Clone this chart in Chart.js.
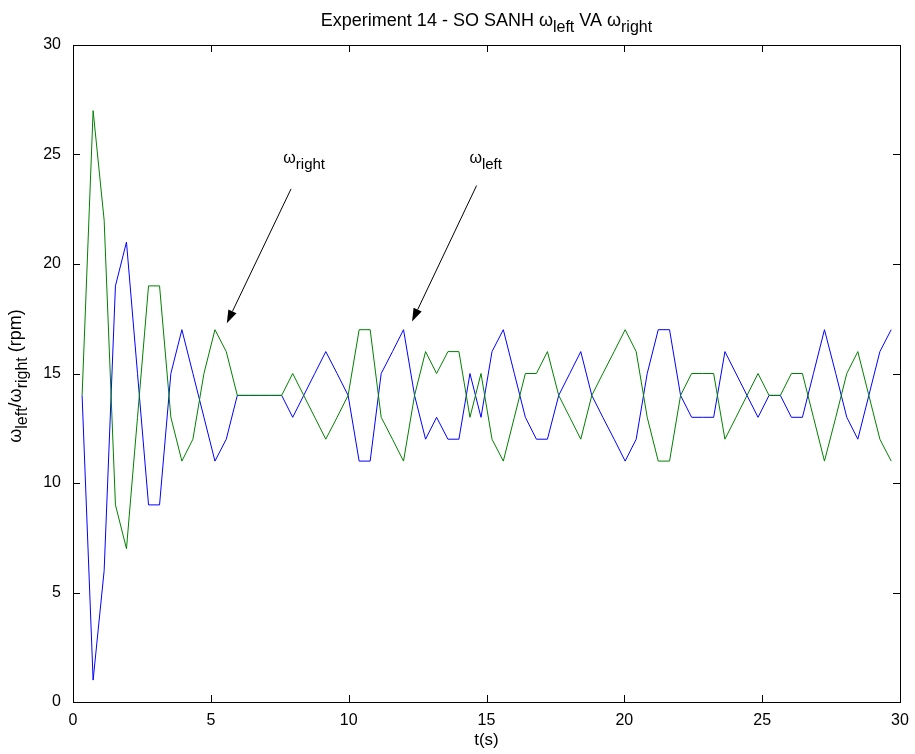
<!DOCTYPE html>
<html>
<head>
<meta charset="utf-8">
<script src="https://cdn.jsdelivr.net/npm/chart.js@4"></script>
<style>
  body { margin: 0; background: #fff; }
  #wrap { width: 915px; height: 754px; }
</style>
</head>
<body>
<div id="wrap"><canvas id="chart" width="915" height="754"></canvas></div>
<script>
// sample times (s)
const times = [0.33, 0.73, 1.13, 1.54, 1.94, 2.34, 2.74, 3.14, 3.55, 3.95,
  4.35, 4.75, 5.15, 5.56, 5.96, 6.36, 6.76, 7.16, 7.57, 7.97,
  8.37, 8.77, 9.17, 9.58, 9.98, 10.38, 10.78, 11.18, 11.59, 11.99,
  12.39, 12.79, 13.19, 13.60, 14.00, 14.40, 14.80, 15.20, 15.61, 16.01,
  16.41, 16.81, 17.21, 17.62, 18.02, 18.42, 18.82, 19.22, 19.63, 20.03,
  20.43, 20.83, 21.23, 21.64, 22.04, 22.44, 22.84, 23.24, 23.65, 24.05,
  24.45, 24.85, 25.25, 25.66, 26.06, 26.46, 26.86, 27.26, 27.67, 28.07,
  28.47, 28.87, 29.27, 29.68];

// omega left (blue), rpm
const omegaLeft = [14, 1, 6, 19, 21, 15, 9, 9, 15, 17,
  15, 13, 11, 12, 14, 14, 14, 14, 14, 13,
  14, 15, 16, 15, 14, 11, 11, 15, 16, 17,
  14, 12, 13, 12, 12, 15, 13, 16, 17, 15,
  13, 12, 12, 14, 15, 16, 14, 13, 12, 11,
  12, 15, 17, 17, 14, 13, 13, 13, 16, 15,
  14, 13, 14, 14, 13, 13, 15, 17, 15, 13,
  12, 14, 16, 17];

// omega right (green), rpm
const omegaRight = [14, 27, 22, 9, 7, 13, 19, 19, 13, 11,
  12, 15, 17, 16, 14, 14, 14, 14, 14, 15,
  14, 13, 12, 13, 14, 17, 17, 13, 12, 11,
  14, 16, 15, 16, 16, 13, 15, 12, 11, 13,
  15, 15, 16, 14, 13, 12, 14, 15, 16, 17,
  16, 13, 11, 11, 14, 15, 15, 15, 12, 13,
  14, 15, 14, 14, 15, 15, 13, 11, 13, 15,
  16, 14, 12, 11];

const xTicks = [0, 5, 10, 15, 20, 25, 30];
const yTicks = [0, 5, 10, 15, 20, 25, 30];

const FONT = "'Liberation Sans', Arial, Helvetica, sans-serif";

// draws text made of normal and subscript pieces
function drawRich(ctx, parts, x, y, size, subSize, align) {
    let widths = parts.map(p => {
        ctx.font = `${p.sub ? subSize : size}px ${FONT}`;
        return ctx.measureText(p.t).width;
    });
    let total = widths.reduce((a, b) => a + b, 0);
    let cx = align === 'center' ? x - total / 2 : x;
    ctx.textAlign = 'left';
    ctx.textBaseline = 'alphabetic';
    parts.forEach((p, i) => {
        ctx.font = `${p.sub ? subSize : size}px ${FONT}`;
        ctx.fillText(p.t, cx, p.sub ? y + 6 : y);
        cx += widths[i];
    });
}

function arrow(ctx, x1, y1, x2, y2) {
    const ang = Math.atan2(y2 - y1, x2 - x1);
    const len = 13, half = 4.5;
    ctx.beginPath();
    ctx.moveTo(x1, y1);
    ctx.lineTo(x2 - len * Math.cos(ang), y2 - len * Math.sin(ang));
    ctx.stroke();
    ctx.beginPath();
    ctx.moveTo(x2, y2);
    ctx.lineTo(x2 - len * Math.cos(ang) + half * Math.sin(ang), y2 - len * Math.sin(ang) - half * Math.cos(ang));
    ctx.lineTo(x2 - len * Math.cos(ang) - half * Math.sin(ang), y2 - len * Math.sin(ang) + half * Math.cos(ang));
    ctx.closePath();
    ctx.fill();
}

const matlabFrame = {
    id: 'matlabFrame',
    afterDraw(chart) {
        const { ctx, chartArea: a, scales: { x, y } } = chart;
        ctx.save();
        ctx.strokeStyle = '#000';
        ctx.fillStyle = '#000';
        ctx.lineWidth = 1;

        // box
        ctx.strokeRect(Math.round(a.left) + 0.5, Math.round(a.top) + 0.5,
            Math.round(a.right - a.left), Math.round(a.bottom - a.top));

        // inward ticks on all sides
        const tl = 7;
        ctx.beginPath();
        xTicks.forEach(v => {
            const px = Math.round(x.getPixelForValue(v)) + 0.5;
            ctx.moveTo(px, a.bottom); ctx.lineTo(px, a.bottom - tl);
            ctx.moveTo(px, a.top); ctx.lineTo(px, a.top + tl);
        });
        yTicks.forEach(v => {
            const py = Math.round(y.getPixelForValue(v)) + 0.5;
            ctx.moveTo(a.left, py); ctx.lineTo(a.left + tl, py);
            ctx.moveTo(a.right, py); ctx.lineTo(a.right - tl, py);
        });
        ctx.stroke();

        // title
        drawRich(ctx, [
            { t: 'Experiment 14 - SO SANH ' }, { t: 'ω' }, { t: 'left', sub: true },
            { t: ' VA ' }, { t: 'ω' }, { t: 'right', sub: true }
        ], (a.left + a.right) / 2, 26, 18, 16, 'center');

        // y axis label, rotated
        ctx.save();
        ctx.translate(21, 376);
        ctx.rotate(-Math.PI / 2);
        drawRich(ctx, [
            { t: 'ω' }, { t: 'left', sub: true }, { t: '/ω' }, { t: 'right', sub: true }, { t: ' (rpm)' }
        ], 0, 0, 18, 16, 'center');
        ctx.restore();

        // annotations with arrows
        drawRich(ctx, [{ t: 'ω' }, { t: 'right', sub: true }], x.getPixelForValue(7.63), y.getPixelForValue(24.6), 16, 15, 'left');
        drawRich(ctx, [{ t: 'ω' }, { t: 'left', sub: true }], x.getPixelForValue(14.38), y.getPixelForValue(24.6), 16, 15, 'left');
        arrow(ctx, x.getPixelForValue(7.91), y.getPixelForValue(23.43), x.getPixelForValue(5.58), y.getPixelForValue(17.3));
        arrow(ctx, x.getPixelForValue(14.64), y.getPixelForValue(23.58), x.getPixelForValue(12.30), y.getPixelForValue(17.38));

        ctx.restore();
    }
};

const ctx = document.getElementById('chart').getContext('2d');
const chart = new Chart(ctx, {
    type: 'line',
    data: {
        datasets: [{
            label: 'omega left',
            data: times.map((t, i) => ({ x: t, y: omegaLeft[i] })),
            borderColor: '#0000ff',
            borderWidth: 1,
            pointRadius: 0,
            tension: 0,
            order: 1
        }, {
            label: 'omega right',
            data: times.map((t, i) => ({ x: t, y: omegaRight[i] })),
            borderColor: '#008000',
            borderWidth: 1,
            pointRadius: 0,
            tension: 0,
            order: 0
        }]
    },
    options: {
        responsive: false,
        animation: false,
        devicePixelRatio: 1,
        layout: { padding: { left: 0, right: 15, top: 45, bottom: 0 } },
        plugins: { legend: { display: false }, tooltip: { enabled: false } },
        scales: {
            x: {
                type: 'linear',
                min: 0, max: 30,
                afterBuildTicks: s => { s.ticks = xTicks.map(v => ({ value: v })); },
                afterFit: s => { s.height = 52; },
                grid: { display: false },
                border: { display: false },
                ticks: { color: '#000', font: { family: FONT, size: 16 }, padding: 1, maxRotation: 0 },
                title: { display: true, text: 't(s)', color: '#000', font: { family: FONT, size: 17 }, padding: { top: 0, bottom: 3 } }
            },
            y: {
                type: 'linear',
                min: 0, max: 30,
                afterBuildTicks: s => { s.ticks = yTicks.map(v => ({ value: v })); },
                afterFit: s => { s.width = 73; },
                grid: { display: false },
                border: { display: false },
                ticks: { color: '#000', font: { family: FONT, size: 16 }, padding: 4 }
            }
        }
    },
    plugins: [matlabFrame]
});
</script>
</body>
</html>
